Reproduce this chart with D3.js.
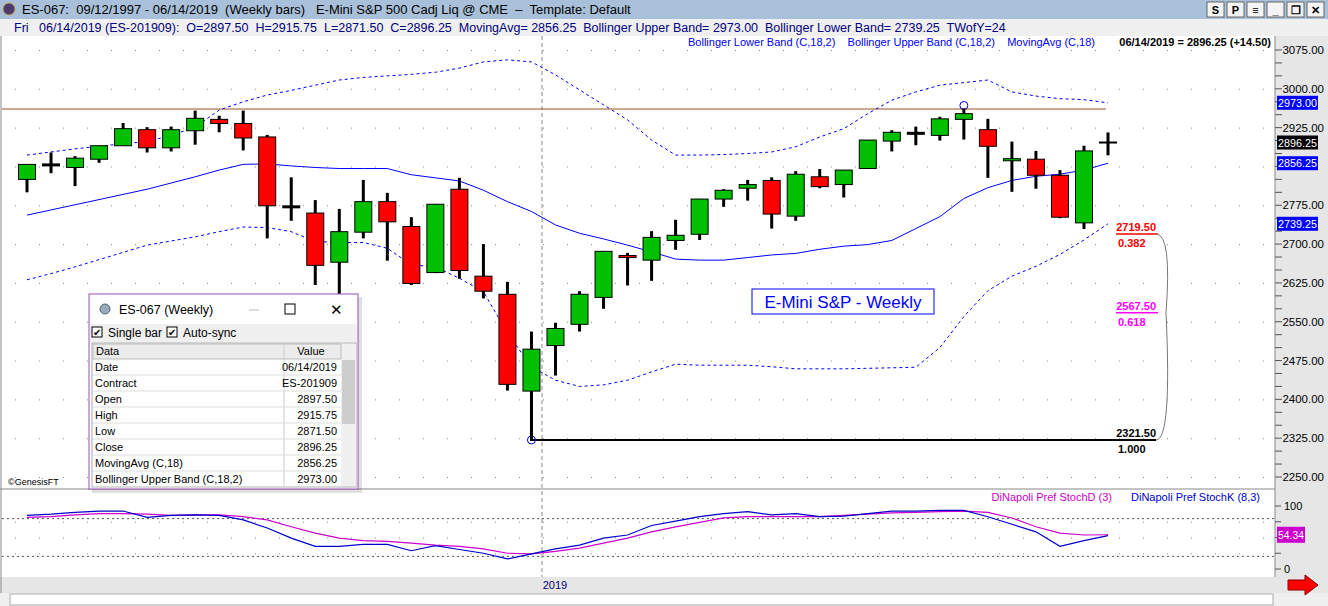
<!DOCTYPE html>
<html><head><meta charset="utf-8">
<script src="https://cdn.jsdelivr.net/npm/d3@7.9.0/dist/d3.min.js"></script>
<style>
body{margin:0;background:#fff;font-family:"Liberation Sans",Arial,sans-serif;}
svg{display:block}
text{white-space:pre}
</style></head><body>
<svg id="chart" width="1328" height="606"></svg>
<script>
// weekly OHLC, 46 bars ending 06/14/2019
const opens  = [2825,2853,2848,2864,2890,2921,2886,2919,2941,2933,2907,2772,2760,2665,2723,2782,2734,2645,2806,2638,2603,2416,2504,2545,2597,2678,2669,2707,2719,2787,2808,2823,2754,2830,2815,2846,2899,2914,2910,2941,2921,2861,2864,2833,2741,2897.5];
const highs  = [2854,2877,2870,2890,2934,2926,2927,2958,2948,2958,2911,2829,2785,2768,2824,2799,2752,2777,2828,2700,2627,2531,2548,2609,2686,2683,2725,2747,2787,2806,2824,2829,2841,2845,2843,2901,2920,2927,2946,2962,2942,2898,2880,2843,2890,2915.75];
const lows   = [2800,2837,2812,2857,2890,2877,2879,2892,2916,2881,2711,2745,2621,2597,2711,2668,2621,2644,2633,2595,2417,2321.5,2446,2531,2575,2620,2629,2689,2708,2772,2784,2730,2745,2808,2790,2846,2879,2891,2900,2902,2828,2801,2807,2750,2729,2871.5];
const closes = [2854,2853,2866,2890,2923,2886,2921,2943,2933,2905,2774,2772,2659,2724,2782,2743,2624,2777,2649,2609,2429,2497,2537,2603,2686,2674,2713,2717,2787,2804,2815,2758,2835,2811,2843,2901,2916,2914,2942,2952,2889,2865,2833,2752,2880,2896.25];
const movingAvg = [2756,2766,2776,2786,2796,2806,2818,2830,2843,2854,2855,2851,2848,2846,2846,2846,2834,2828,2822,2804,2782,2763,2737,2721,2710,2698,2685,2671,2669,2669,2674,2679,2682,2690,2696,2699,2707,2730,2753,2788,2809,2823,2831,2835,2843,2856.25];
const upperBand = [2872,2878,2884,2889,2894,2898,2910,2926,2959,2975,2988,2997,3007,3017,3022,3025,3028,3032,3040,3052,3056,3052,3027,2998,2969,2940,2901,2872,2872,2873,2875,2878,2888,2907,2923,2952,2978,2994,3007,3012,3017,2994,2986,2981,2979,2973];
const lowerBand = [2631,2643,2656,2670,2684,2698,2706,2714,2724,2733,2732,2724,2705,2703,2703,2692,2660,2656,2634,2608,2528,2463,2437,2425,2428,2437,2453,2468,2466,2466,2466,2463,2459,2459,2459,2460,2461,2462,2500,2560,2610,2638,2657,2680,2708,2739.25];
const stochK = [85,87,90,92,92,82,85,86,85,78,65,49,36,36,39,39,29,37,31,25,16,24,32,38,49,54,69,76,83,88,91,86,88,83,84,88,92,92,93,93,83,71,59,36,45,53];
const stochD = [82,83,86,88,88,87,85,86,86,83,78,67,57,49,45,44,41,38,36,32,25,24,28,33,41,49,59,67,74,81,83,83,83,83,85,87,89,90,91,92,90,81,67,57,54,54.34];
const priceTicks = [3075,3000,2925,2775,2700,2625,2550,2475,2400,2325,2250];
const stochTicks = [100,0];
const fibLevels = [{v:2719.50,r:"0.382",c:"#ff0000"},{v:2567.50,r:"0.618",c:"#ff00ff"},{v:2321.50,r:"1.000",c:"#000"}];
const dataRows = [["Date","06/14/2019"],["Contract","ES-201909"],["Open","2897.50"],["High","2915.75"],["Low","2871.50"],["Close","2896.25"],["MovingAvg (C,18)","2856.25"],["Bollinger Upper Band (C,18,2)","2973.00"]];

const svg = d3.select('#chart');
const idx = d3.range(opens.length);
const x = d3.scaleLinear().domain([0, 45]).range([27, 1108]);
const y = d3.scaleLinear().domain([2250, 3075]).range([477, 50]);
const ys = d3.scaleLinear().domain([0, 100]).range([569, 506]);

// frame and bars
svg.append('rect').attr('x',0).attr('y',0).attr('width',1328).attr('height',19).attr('fill','#a9c0da');
svg.append('rect').attr('x',0).attr('y',19).attr('width',1328).attr('height',17).attr('fill','#f0f0f0');
svg.append('rect').attr('x',1275).attr('y',36).attr('width',53).attr('height',557).attr('fill','#e6e6e6');
svg.append('rect').attr('x',0).attr('y',577).attr('width',1275).attr('height',16).attr('fill','#e6e6e6');
svg.append('rect').attr('x',0).attr('y',593).attr('width',1328).attr('height',13).attr('fill','#f0f0f0');
svg.append('rect').attr('x',10).attr('y',594).attr('width',1263).attr('height',11).attr('fill','#fff').attr('stroke','#aaa');
svg.append('line').attr('x1',0).attr('x2',1275).attr('y1',489).attr('y2',489).attr('stroke','#888');
svg.append('line').attr('x1',1275).attr('x2',1275).attr('y1',36).attr('y2',577).attr('stroke','#888');
svg.append('line').attr('x1',1).attr('x2',1).attr('y1',36).attr('y2',593).attr('stroke','#888');

svg.append('circle').attr('cx',9).attr('cy',9).attr('r',6).attr('fill','#4a3a70').attr('stroke','#c9a23a');
svg.append('text').attr('x',22).attr('y',14).attr('font-size',13).attr('fill','#000')
  .text('ES-067:  09/12/1997 - 06/14/2019  (Weekly bars)   E-Mini S&P 500 Cadj Liq @ CME  \u2013  Template: Default');
svg.append('text').attr('x',14).attr('y',32).attr('font-size',12.5).attr('fill','#000080')
  .text('Fri   06/14/2019 (ES-201909):  O=2897.50  H=2915.75  L=2871.50  C=2896.25  MovingAvg= 2856.25  Bollinger Upper Band= 2973.00  Bollinger Lower Band= 2739.25  TWofY=24');
['S','P','\u2261','_','\u2750','\u2715'].forEach((s,i)=>{
  const bx = 1207 + i*20;
  svg.append('rect').attr('x',bx).attr('y',2).attr('width',17).attr('height',15).attr('fill','#f4f4f4').attr('stroke','#666');
  svg.append('text').attr('x',bx+8.5).attr('y',14).attr('text-anchor','middle').attr('font-size',11).attr('font-weight','bold').text(s);
});

// dotted grid
const gridLevels = [3075,3000,2925,2850,2775,2700,2625,2550,2475,2400,2325,2250];
gridLevels.forEach(v=>{
  d3.range(15, 1275, 24).forEach(gx=>{
    svg.append('rect').attr('x',gx).attr('y',y(v)).attr('width',1).attr('height',1).attr('fill','#888');
  });
});
[75,50,25].forEach(v=>{
  d3.range(15,1275,24).forEach(gx=>svg.append('rect').attr('x',gx).attr('y',ys(v)).attr('width',1).attr('height',1).attr('fill','#888'));
});
[80,20].forEach(v=>svg.append('line').attr('x1',2).attr('x2',1275).attr('y1',ys(v)).attr('y2',ys(v)).attr('stroke','#555').attr('stroke-dasharray','2,3'));
svg.append('line').attr('x1',542).attr('x2',542).attr('y1',36).attr('y2',577).attr('stroke','#888').attr('stroke-dasharray','4,3');

// right axis
priceTicks.forEach(v=>{
  svg.append('text').attr('x',1324).attr('y',y(v)+4).attr('text-anchor','end').attr('font-size',11.5).text(v.toFixed(2));
});
d3.range(2250, 3076, 25).forEach(v=>svg.append('line').attr('x1',1275).attr('x2',1282).attr('y1',y(v)).attr('y2',y(v)).attr('stroke','#555'));
function tag(v, bg, fg){
  const yy = y(v);
  svg.append('rect').attr('x',1277).attr('y',yy-7).attr('width',41).attr('height',14).attr('fill',bg);
  svg.append('text').attr('x',1278).attr('y',yy+4).attr('font-size',11.5).attr('textLength',39).attr('lengthAdjust','spacingAndGlyphs').attr('fill',fg).text(v.toFixed(2));
}
tag(2973, '#0000ff', '#fff');
tag(2896.25, '#000', '#fff');
tag(2856.25, '#0000ff', '#fff');
tag(2739.25, '#0000ff', '#fff');
stochTicks.forEach(v=>svg.append('text').attr('x',1284).attr('y',ys(v)+4).attr('font-size',11).text(v));
[100,75,50,25,0].forEach(v=>svg.append('line').attr('x1',1275).attr('x2',1281).attr('y1',ys(v)).attr('y2',ys(v)).attr('stroke','#555'));
svg.append('rect').attr('x',1277).attr('y',ys(54.34)-8).attr('width',28).attr('height',16).attr('fill','#cc00cc');
svg.append('text').attr('x',1278).attr('y',ys(54.34)+4).attr('font-size',11).attr('textLength',26).attr('lengthAdjust','spacingAndGlyphs').attr('fill','#fff').text('54.34');

// resistance line and fib
svg.append('line').attr('x1',2).attr('x2',1106).attr('y1',y(2961)).attr('y2',y(2961)).attr('stroke','#a0522d');
svg.append('line').attr('x1',530).attr('x2',1156).attr('y1',y(2321.5)).attr('y2',y(2321.5)).attr('stroke','#000').attr('stroke-width',2);
fibLevels.forEach(f=>{
  svg.append('text').attr('x',1156).attr('y',y(f.v)-3).attr('text-anchor','end').attr('font-size',11).attr('font-weight','bold').attr('fill',f.c).text(f.v.toFixed(2));
  svg.append('text').attr('x',1118).attr('y',y(f.v)+13).attr('font-size',11).attr('font-weight','bold').attr('fill',f.c).text(f.r);
  if (f.v !== 2321.5) svg.append('line').attr('x1',1116).attr('x2',1158).attr('y1',y(f.v)).attr('y2',y(f.v)).attr('stroke',f.c).attr('stroke-width',1.5);
});
svg.append('path').attr('fill','none').attr('stroke','#777')
  .attr('d',`M1156,${y(2719.5)} Q1172,${y(2719.5)} 1166,${y(2567.5)} Q1172,${y(2321.5)} 1156,${y(2321.5)}`);
svg.append('circle').attr('cx',x(21)).attr('cy',y(2321.5)).attr('r',4).attr('fill','none').attr('stroke','#0000cc');
svg.append('circle').attr('cx',x(39)).attr('cy',y(2962)-3).attr('r',4).attr('fill','none').attr('stroke','#0000cc');

// bands and MA
const line = arr => d3.line().x((d,i)=>x(i)).y(d=>y(d))(arr);
svg.append('path').attr('d',line(upperBand)).attr('fill','none').attr('stroke','#0000ff').attr('stroke-dasharray','3,3');
svg.append('path').attr('d',line(lowerBand)).attr('fill','none').attr('stroke','#0000ff').attr('stroke-dasharray','3,3');
svg.append('path').attr('d',line(movingAvg)).attr('fill','none').attr('stroke','#0000ff');

// candles
const g = svg.append('g');
idx.forEach(i=>{
  const cx = x(i), o = opens[i], c = closes[i];
  g.append('line').attr('x1',cx).attr('x2',cx).attr('y1',y(highs[i])).attr('y2',y(lows[i])).attr('stroke','#000').attr('stroke-width',3);
  if (Math.abs(o-c) < 1 && i !== 45) {
    g.append('line').attr('x1',cx-9).attr('x2',cx+9).attr('y1',y(c)).attr('y2',y(c)).attr('stroke','#000').attr('stroke-width',3);
  } else if (i === 45) {
    g.append('line').attr('x1',cx-9).attr('x2',cx+9).attr('y1',y(c)).attr('y2',y(c)).attr('stroke','#000').attr('stroke-width',2);
  } else {
    const top = y(Math.max(o,c)), bot = y(Math.min(o,c));
    g.append('rect').attr('x',cx-8.5).attr('y',top).attr('width',17).attr('height',Math.max(bot-top,2))
      .attr('fill', c>o ? '#00c000' : '#ff0000').attr('stroke','#000').attr('stroke-width',1);
  }
});

// legends
svg.append('text').attr('x',1095).attr('y',46).attr('text-anchor','end').attr('font-size',11).attr('fill','#0000ff')
  .text('Bollinger Lower Band (C,18,2)    Bollinger Upper Band (C,18,2)    MovingAvg (C,18)');
svg.append('text').attr('x',1271).attr('y',46).attr('text-anchor','end').attr('font-size',11).attr('font-weight','bold').attr('fill','#000')
  .text('06/14/2019 = 2896.25 (+14.50)');
svg.append('rect').attr('x',752).attr('y',289).attr('width',182).attr('height',25).attr('fill','#fff').attr('stroke','#0000ff');
svg.append('text').attr('x',843).attr('y',308).attr('text-anchor','middle').attr('font-size',17).attr('fill','#0000ff').text('E-Mini S&P - Weekly');
svg.append('text').attr('x',8).attr('y',485).attr('font-size',9).text('\u00a9GenesisFT');

// stochastics
const sline = arr => d3.line().x((d,i)=>x(i)).y(d=>ys(d))(arr);
svg.append('path').attr('d',sline(stochD)).attr('fill','none').attr('stroke','#cc00cc').attr('stroke-width',1.2);
svg.append('path').attr('d',sline(stochK)).attr('fill','none').attr('stroke','#0000cc').attr('stroke-width',1.2);
svg.append('text').attr('x',1112).attr('y',501).attr('text-anchor','end').attr('font-size',11).attr('fill','#cc00cc').text('DiNapoli Pref StochD (3)');
svg.append('text').attr('x',1260).attr('y',501).attr('text-anchor','end').attr('font-size',11).attr('fill','#0000cc').text('DiNapoli Pref StochK (8,3)');
svg.append('text').attr('x',555).attr('y',589).attr('text-anchor','middle').attr('font-size',11).attr('fill','#000080').text('2019');
svg.append('path').attr('d','M1288,580 L1305,580 L1305,575 L1318,585 L1305,595 L1305,590 L1288,590 Z').attr('fill','#ff0000').attr('stroke','#800');

// data window
const dw = svg.append('g').attr('transform','translate(89,294)');
dw.append('rect').attr('x',3).attr('y',3).attr('width',270).attr('height',196).attr('fill','#000').attr('opacity',0.12);
dw.append('rect').attr('width',269).attr('height',195).attr('fill','#fff').attr('stroke','#9b4fb5');
dw.append('circle').attr('cx',16).attr('cy',15).attr('r',5).attr('fill','#9ab').attr('stroke','#567');
dw.append('text').attr('x',30).attr('y',20).attr('font-size',12.5).text('ES-067 (Weekly)');
dw.append('line').attr('x1',160).attr('x2',170).attr('y1',16).attr('y2',16).attr('stroke','#bbb');
dw.append('rect').attr('x',196).attr('y',10).attr('width',10).attr('height',10).attr('fill','none').attr('stroke','#000');
dw.append('text').attr('x',247).attr('y',21).attr('text-anchor','middle').attr('font-size',15).text('\u2715');
dw.append('rect').attr('x',1).attr('y',30).attr('width',267).attr('height',18).attr('fill','#f0f0f0');
[[3,'Single bar'],[78,'Auto-sync']].forEach(([cx,t])=>{
  dw.append('rect').attr('x',cx).attr('y',33).attr('width',10).attr('height',10).attr('fill','#fff').attr('stroke','#000');
  dw.append('text').attr('x',cx+1).attr('y',42).attr('font-size',10).text('\u2714');
  dw.append('text').attr('x',cx+16).attr('y',43).attr('font-size',12).text(t);
});
dw.append('rect').attr('x',3).attr('y',49).attr('width',264).attr('height',144).attr('fill','#fff').attr('stroke','#aaa');
dw.append('rect').attr('x',252).attr('y',50).attr('width',15).attr('height',142).attr('fill','#f0f0f0');
dw.append('rect').attr('x',253).attr('y',66).attr('width',13).attr('height',64).attr('fill','#cdcdcd');
dw.append('rect').attr('x',4).attr('y',50).attr('width',248).attr('height',15).attr('fill','#ececec').attr('stroke','#bbb');
dw.append('line').attr('x1',195).attr('x2',195).attr('y1',50).attr('y2',192).attr('stroke','#ccc');
dw.append('text').attr('x',7).attr('y',61).attr('font-size',11).text('Data');
dw.append('text').attr('x',222).attr('y',61).attr('text-anchor','middle').attr('font-size',11).text('Value');
dataRows.forEach((r,i)=>{
  const ry = 65 + i*16;
  dw.append('line').attr('x1',4).attr('x2',252).attr('y1',ry+16).attr('y2',ry+16).attr('stroke','#ddd');
  dw.append('text').attr('x',6).attr('y',ry+12).attr('font-size',11).text(r[0]);
  dw.append('text').attr('x',248).attr('y',ry+12).attr('text-anchor','end').attr('font-size',11).text(r[1]);
});
</script></body></html>
